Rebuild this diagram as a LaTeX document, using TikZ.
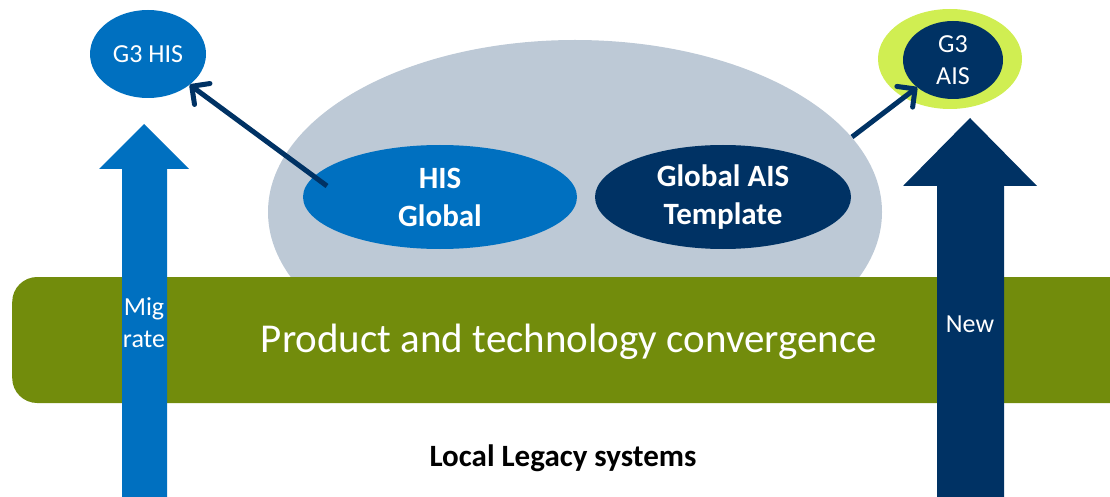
\documentclass[tikz,border=0pt]{standalone}
\usepackage{fontspec}
\setmainfont{Carlito}
\usetikzlibrary{shapes.geometric,arrows.meta}
\definecolor{hisblue}{HTML}{0070C0}
\definecolor{aisnavy}{HTML}{003264}
\definecolor{bandgreen}{HTML}{728C0C}
\definecolor{cloudgrey}{HTML}{BDC9D6}
\definecolor{ringlime}{HTML}{D0EE52}

\begin{document}
\begin{tikzpicture}[x=1pt,y=1pt]
\useasboundingbox (0,0) rectangle (1110,496);
\tikzset{
  blob/.style={ellipse, inner sep=0pt, text=white, align=center},
  bigtxt/.style={font=\bfseries\fontsize{31}{38}\selectfont},
  smalltxt/.style={font=\fontsize{26}{32}\selectfont},
  link/.style={draw, aisnavy, line width=5pt, -{Straight Barb[length=13pt,width=26pt,round]}}
}
\node[ellipse, fill=cloudgrey, minimum width=614pt, minimum height=344pt] (cloud) at (575,284) {};

\begin{scope}
\clip (0,0) rectangle (1110,496);
\node[fill=bandgreen, rounded corners=25pt, minimum width=1130pt, minimum height=126pt, anchor=west] (band) at (12,156) {};
\end{scope}
\node[text=white, font=\fontsize{41}{49}\selectfont] (convtext) at (569,154) {Product and technology convergence};

\node[blob, bigtxt, fill=hisblue, minimum width=274pt, minimum height=104pt] (hisglobal) at (440,299) {HIS\\Global};
\node[blob, bigtxt, fill=aisnavy, minimum width=256pt, minimum height=104pt] (aistemplate) at (723,299) {Global AIS\\Template};

% block arrows
\path[fill=hisblue] (122,-2) -- (122,327) -- (99,327) -- (144,372) -- (189,327) -- (167,327) -- (167,-2) -- cycle;
\path[fill=aisnavy] (937,-2) -- (937,310) -- (903,310) -- (970,378) -- (1037,310) -- (1004,310) -- (1004,-2) -- cycle;
\node[text=white, smalltxt, align=center] (migtext) at (144,173) {Mig\\rate};
\node[text=white, smalltxt] (newtext) at (970,172) {New};

\node[blob, smalltxt, fill=hisblue, minimum width=116pt, minimum height=88pt] (g3his) at (148,442) {G3 HIS};
\node[ellipse, fill=ringlime, minimum width=144pt, minimum height=100pt] (g3aisring) at (950,437) {};
\node[blob, smalltxt, fill=aisnavy, minimum width=100pt, minimum height=78pt] (g3ais) at (953,436) {G3\\AIS};

\coordinate (hisstart) at (327,310);
\coordinate (aisstart) at (852,359);
\path[link] (hisstart) -- (g3his);
\path[link] (aisstart) -- (g3ais);

\node[bigtxt] (legacy) at (563,38) {Local Legacy systems};
\end{tikzpicture}
\end{document}
